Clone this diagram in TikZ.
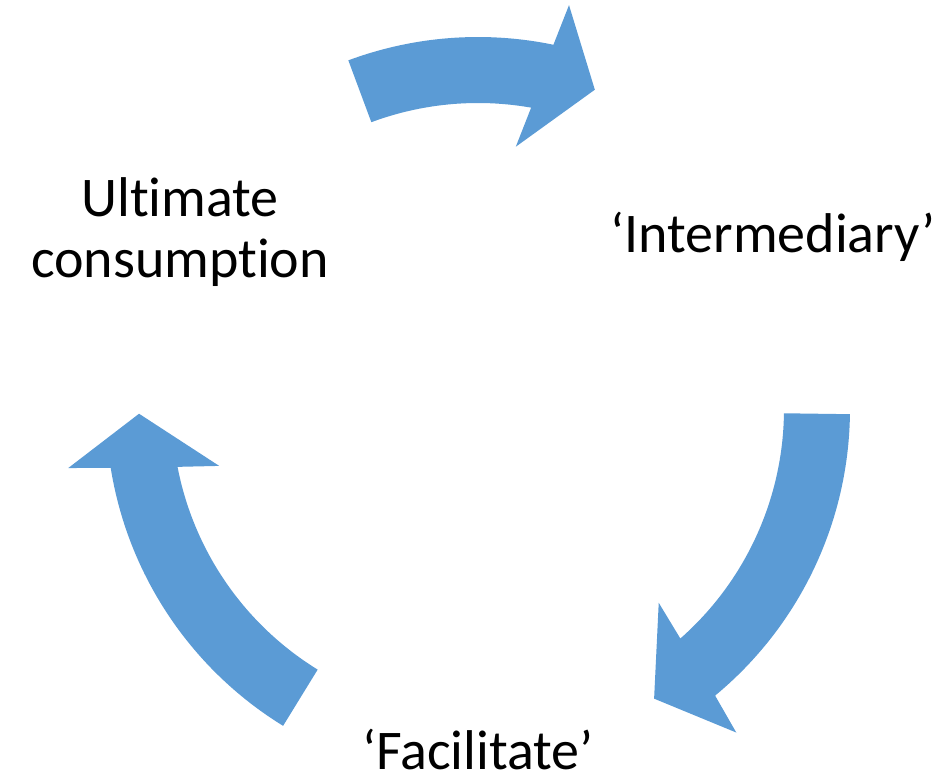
\documentclass[tikz,border=0pt]{standalone}
\usepackage{fontspec}
\setmainfont{Carlito}[RawFeature={-liga;-clig;-dlig;-calt;-rlig}]
\begin{document}
\begin{tikzpicture}[x=1pt,y=-1pt,
  cyclearrow/.style={fill={rgb,255:red,91;green,155;blue,213}, draw=none},
  label/.style={anchor=base, inner sep=0pt, align=center,
    font=\fontsize{56}{61.5}\selectfont}]
  \useasboundingbox (0,0) rectangle (951,778);
  % circular arrows around a common centre; outer radius 372, inner 306
  \begin{scope}[shift={(478,409)}]
    \fill[cyclearrow] plot[domain=-110.4:-78.3,samples=40] (\x:372)
      -- (-77.3:414) -- (-69.9:340) -- (-81.8:265)
      -- plot[domain=-80.0:-110.4,samples=40] (\x:306) -- cycle;
    \fill[cyclearrow] plot[domain=0.8:50.4,samples=50] (\x:372)
      -- (51.4:414) -- (58.7:339) -- (47.0:265)
      -- plot[domain=48.6:0.8,samples=50] (\x:306) -- cycle;
    \fill[cyclearrow] plot[domain=121.6:170.9,samples=50] (\x:372)
      -- (171.8:414) -- (179.2:339) -- (167.6:265)
      -- plot[domain=169.1:121.6,samples=50] (\x:306) -- cycle;
  \end{scope}
  % the base anchor of a two-line node sits on its last line
  \node[label] (ultimate) at (180,278) {Ultimate\\consumption};
  \node[label] (intermediary) at (773,253) {‘Intermediary’};
  \node[label, text depth=0pt] (facilitate) at (478,769) {‘Facilitate’};
\end{tikzpicture}
\end{document}
